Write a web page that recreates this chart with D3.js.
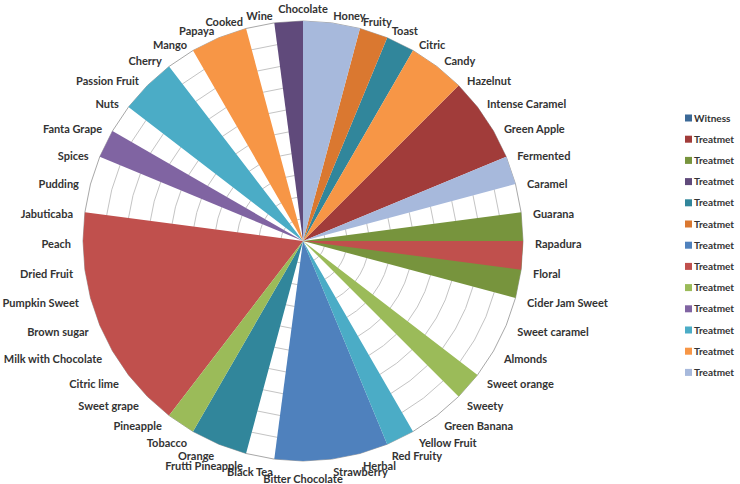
<!DOCTYPE html>
<html>
<head>
<meta charset="utf-8">
<script src="https://cdn.jsdelivr.net/npm/d3@7"></script>
<style>
  body { margin: 0; background: #fff; }
  svg text { font-family: Lato, "Open Sans", sans-serif; font-weight: bold; fill: #333; }
</style>
</head>
<body>
<svg id="chart" width="740" height="484"></svg>
<script>
'use strict';

var categories = ['Chocolate', 'Honey', 'Fruity', 'Toast', 'Citric', 'Candy', 'Hazelnut',
  'Intense Caramel', 'Green Apple', 'Fermented', 'Caramel', 'Guarana', 'Rapadura', 'Floral',
  'Cider Jam  Sweet', 'Sweet caramel', 'Almonds', 'Sweet orange', 'Sweety', 'Green Banana',
  'Yellow Fruit', 'Red Fruity', 'Herbal', 'Strawberry', 'Bitter Chocolate', 'Black Tea',
  'Frutti Pineapple', 'Orange', 'Tobacco', 'Pineapple', 'Sweet grape', 'Citric lime',
  'Milk with Chocolate', 'Brown sugar', 'Pumpkin Sweet', 'Dried Fruit', 'Peach', 'Jabuticaba',
  'Pudding', 'Spices', 'Fanta Grape', 'Nuts', 'Passion Fruit', 'Cherry', 'Mango', 'Papaya',
  'Cooked', 'Wine'];

var seriesNames = ['Witness', 'Treatmet', 'Treatmet', 'Treatmet', 'Treatmet', 'Treatmet', 'Treatmet',
  'Treatmet', 'Treatmet', 'Treatmet', 'Treatmet', 'Treatmet', 'Treatmet'];

// one value per category, same order as categories
var witness     = [0,0,0,0,0,0,0,0,0,0,0,0,0,0,0,0,0,0,0,0,0,0,0,0,0,0,0,0,0,0,0,0,0,0,0,0,0,0,0,0,0,0,0,0,0,0,0,0];
var treatmet1   = [0,0,0,0,0,0,10,10,10,10,0,0,0,0,0,0,0,0,0,0,0,0,0,0,0,0,0,0,0,0,0,0,0,0,0,0,0,0,0,0,0,0,0,0,0,0,0,0];
var treatmet2   = [0,0,0,0,0,0,0,0,0,0,0,10,10,10,10,0,0,0,0,0,0,0,0,0,0,0,0,0,0,0,0,0,0,0,0,0,0,0,0,0,0,0,0,0,0,0,0,0];
var treatmet3   = [10,0,0,0,0,0,0,0,0,0,0,0,0,0,0,0,0,0,0,0,0,0,0,0,0,0,0,0,0,0,0,0,0,0,0,0,0,0,0,0,0,0,0,0,0,0,0,10];
var treatmet4   = [0,0,0,10,10,0,0,0,0,0,0,0,0,0,0,0,0,0,0,0,0,0,0,0,0,0,10,10,10,0,0,0,0,0,0,0,0,0,0,0,0,0,0,0,0,0,0,0];
var treatmet5   = [0,0,10,10,0,0,0,0,0,0,0,0,0,0,0,0,0,0,0,0,0,0,0,0,0,0,0,0,0,0,0,0,0,0,0,0,0,0,0,0,0,0,0,0,0,0,0,0];
var treatmet6   = [0,0,0,0,0,0,0,0,0,0,0,0,0,0,0,0,0,0,0,0,0,10,10,10,10,10,0,0,0,0,0,0,0,0,0,0,0,0,0,0,0,0,0,0,0,0,0,0];
var treatmet7   = [0,0,0,0,0,0,0,0,0,0,0,0,10,10,0,0,0,0,0,0,0,0,0,0,0,0,0,0,0,10,10,10,10,10,10,10,10,10,0,0,0,0,0,0,0,0,0,0];
var treatmet8   = [0,0,0,0,0,0,0,0,0,0,0,0,0,0,0,0,0,10,10,0,0,0,0,0,0,0,0,0,10,10,0,0,0,0,0,0,0,0,0,0,0,0,0,0,0,0,0,0];
var treatmet9   = [0,0,0,0,0,0,0,0,0,0,0,0,0,0,0,0,0,0,0,0,0,0,0,0,0,0,0,0,0,0,0,0,0,0,0,0,0,0,0,10,10,0,0,0,0,0,0,0];
var treatmet10  = [0,0,0,0,0,0,0,0,0,0,0,0,0,0,0,0,0,0,0,0,10,10,0,0,0,0,0,0,0,0,0,0,0,0,0,0,0,0,0,0,0,10,10,10,0,0,0,0];
var treatmet11  = [0,0,0,0,10,10,10,0,0,0,0,0,0,0,0,0,0,0,0,0,0,0,0,0,0,0,0,0,0,0,0,0,0,0,0,0,0,0,0,0,0,0,0,0,10,10,10,0];
var treatmet12  = [10,10,10,0,0,0,0,0,0,10,10,0,0,0,0,0,0,0,0,0,0,0,0,0,0,0,0,0,0,0,0,0,0,0,0,0,0,0,0,0,0,0,0,0,0,0,0,0];

var seriesValues = [witness, treatmet1, treatmet2, treatmet3, treatmet4, treatmet5, treatmet6,
  treatmet7, treatmet8, treatmet9, treatmet10, treatmet11, treatmet12];

var seriesColors = ['#3B6997', '#A13C3A', '#77943D', '#604A7B', '#31869B', '#DA7830', '#4F81BD',
  '#C0504D', '#9BBB59', '#8064A2', '#4BACC6', '#F79646', '#A7B9DC'];

var svg = d3.select('#chart');
var cx = 303, cy = 241, radius = 220;

var angle = d3.scaleLinear().domain([0, categories.length]).range([0, 2 * Math.PI]);
var r = d3.scaleLinear().domain([0, 10]).range([0, radius]);

var plot = svg.append('g').attr('transform', 'translate(' + cx + ',' + cy + ')');

// spider web rings
var ringLine = function(level) {
  return d3.lineRadial()
    .angle(function(d, i) { return angle(i); })
    .radius(function() { return r(level); })
    .curve(d3.curveLinearClosed)(categories);
};
plot.selectAll('path.ring')
  .data(r.ticks(10).filter(function(t) { return t > 0; }))
  .enter()
  .append('path')
  .attr('class', 'ring')
  .attr('d', ringLine)
  .attr('fill', 'none')
  .attr('stroke', function(t) { return t === 10 ? '#a8a8a8' : '#c4c4c4'; })
  .attr('stroke-width', 1);

// filled series
var area = d3.lineRadial()
  .angle(function(d, i) { return angle(i); })
  .radius(function(d) { return r(d); })
  .curve(d3.curveLinearClosed);

plot.selectAll('path.series')
  .data(seriesValues)
  .enter()
  .append('path')
  .attr('class', 'series')
  .attr('d', area)
  .attr('fill', function(d, i) { return seriesColors[i]; });

// category labels
plot.selectAll('text.cat')
  .data(categories)
  .enter()
  .append('text')
  .attr('class', 'cat')
  .attr('font-size', 11)
  .attr('dy', '0.35em')
  .attr('x', function(d, i) {
    var a = angle(i);
    return (radius + 0) * Math.sin(a) + 12 * Math.sin(a);
  })
  .attr('y', function(d, i) {
    var a = angle(i);
    var extra = Math.abs(Math.sin(a)) < 0.01 ? 5 : 0;
    return -radius * Math.cos(a) - (10 + extra) * Math.cos(a) + 3;
  })
  .attr('text-anchor', function(d, i) {
    var s = Math.sin(angle(i));
    return s > 0.01 ? 'start' : (s < -0.01 ? 'end' : 'middle');
  })
  .text(function(d) { return d; });

// legend
var legend = svg.append('g').attr('transform', 'translate(685,118)');
var item = legend.selectAll('g')
  .data(seriesNames)
  .enter()
  .append('g')
  .attr('transform', function(d, i) { return 'translate(0,' + i * 21.2 + ')'; });
item.append('rect')
  .attr('x', 0).attr('y', -3.5)
  .attr('width', 7).attr('height', 7)
  .attr('fill', function(d, i) { return seriesColors[i]; });
item.append('text')
  .attr('x', 9)
  .attr('dy', '0.35em')
  .attr('font-size', 10)
  .text(function(d) { return d; });
</script>
</body>
</html>
